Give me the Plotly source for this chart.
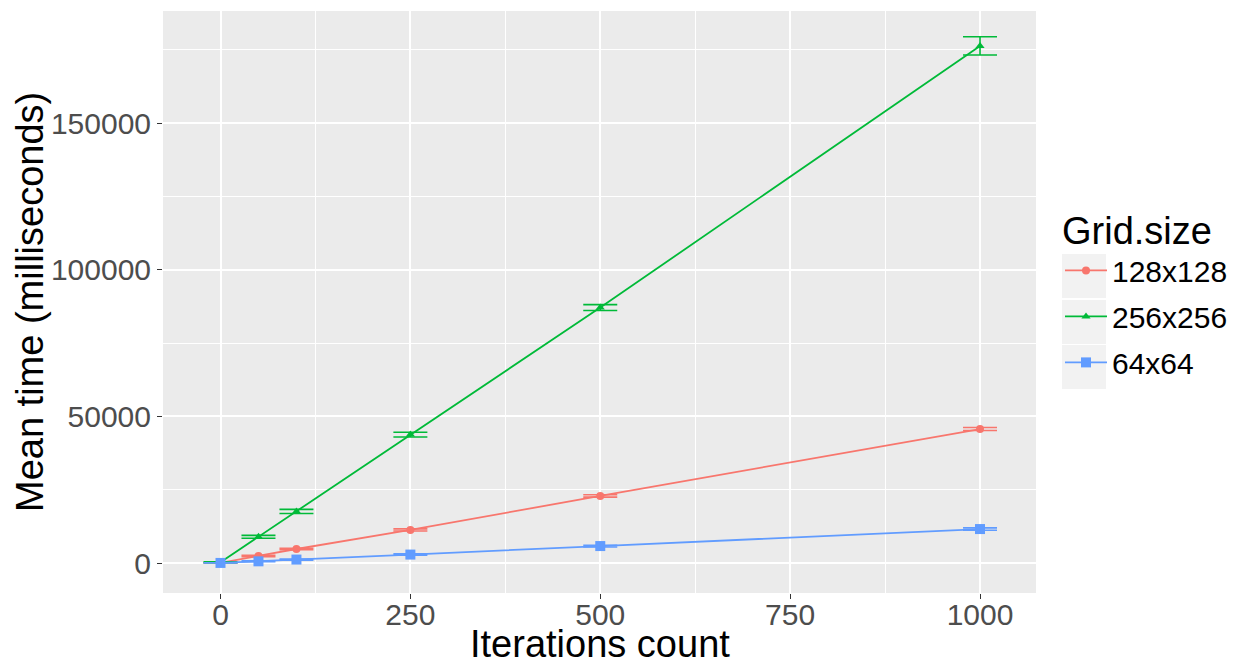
import plotly.graph_objects as go

# ---- data ----
iterations = [0, 50, 100, 250, 500, 1000]
series_names = ["128x128", "256x256", "64x64"]
mean_128 = [100, 2400, 4800, 11300, 22900, 45700]
err_128 = [80, 250, 250, 350, 400, 500]
mean_256 = [300, 8950, 17600, 43800, 87100, 176300]
err_256 = [150, 500, 700, 800, 1000, 3100]
mean_64 = [50, 600, 1200, 2900, 5800, 11600]
err_64 = [40, 150, 200, 250, 300, 400]
x_ticks = [0, 250, 500, 750, 1000]
y_ticks = [0, 50000, 100000, 150000]
x_title = "Iterations count"
y_title = "Mean time (milliseconds)"
legend_title = "Grid.size"

colors = {"128x128": "#F8766D", "256x256": "#00BA38", "64x64": "#619CFF"}
symbols = {"128x128": "circle", "256x256": "triangle-up", "64x64": "square"}
msize = {"128x128": 8, "256x256": 8, "64x64": 10}
means = {"128x128": mean_128, "256x256": mean_256, "64x64": mean_64}
errs = {"128x128": err_128, "256x256": err_256, "64x64": err_64}

W, H = 1237, 659
ML, MR, MT, MB = 163, 201, 11, 66
PW, PH = W - ML - MR, H - MT - MB

FONT = "Liberation Sans, Arial, sans-serif"

fig = go.Figure()
for i, name in enumerate(series_names):
    c = colors[name]
    fig.add_trace(go.Scatter(
        x=iterations, y=means[name], name=name, mode="lines+markers",
        legendgroup=f"g{i}",
        line=dict(color=c, width=1.8),
        marker=dict(color=c, symbol=symbols[name], size=msize[name]),
        error_y=dict(type="data", array=errs[name], visible=True,
                     color=c, thickness=1.6, width=17),
    ))

def px2paper_x(px):
    return (px - ML) / PW

def px2paper_y(py):
    return (H - MB - py) / PH

# grey legend key backgrounds
shapes = []
for (y0, y1) in [(254, 298), (300, 344), (345, 389)]:
    shapes.append(dict(type="rect", xref="paper", yref="paper",
                       x0=px2paper_x(1062), x1=px2paper_x(1106),
                       y0=px2paper_y(y1), y1=px2paper_y(y0),
                       fillcolor="#F2F2F2", line=dict(width=0), layer="below"))

annotations = [
    dict(text=x_title, xref="paper", yref="paper", x=0.5, y=px2paper_y(644),
         xanchor="center", yanchor="middle", showarrow=False,
         font=dict(size=38, family=FONT, color="#000000")),
    dict(text=y_title, xref="paper", yref="paper", x=px2paper_x(30), y=0.5,
         xanchor="center", yanchor="middle", showarrow=False, textangle=-90,
         font=dict(size=38, family=FONT, color="#000000")),
]

fig.update_layout(
    width=W, height=H,
    margin=dict(l=ML, r=MR, t=MT, b=MB, autoexpand=False),
    paper_bgcolor="white", plot_bgcolor="#EBEBEB",
    font=dict(family=FONT, color="#000000"),
    shapes=shapes,
    annotations=annotations,
    showlegend=True,
    legend=dict(
        x=px2paper_x(1060), y=px2paper_y(195), xanchor="left", yanchor="top",
        bgcolor="rgba(0,0,0,0)", borderwidth=0,
        title=dict(text=legend_title, font=dict(size=38, family=FONT, color="#000000")),
        font=dict(size=30, family=FONT, color="#000000"),
        tracegroupgap=4, itemwidth=42,
    ),
    xaxis=dict(
        range=[-75.7, 1073.7], tickmode="array", tickvals=x_ticks,
        ticktext=[str(v) for v in x_ticks],
        showgrid=True, gridcolor="white", gridwidth=1.8, zeroline=False,
        ticks="outside", ticklen=5, tickwidth=1.3, tickcolor="#333333",
        tickfont=dict(size=30, color="#4D4D4D", family=FONT),
        ticklabelstandoff=-10,
        minor=dict(dtick=125, tick0=0, showgrid=True, gridcolor="white", gridwidth=0.9, ticks=""),
        showline=False, automargin=False,
    ),
    yaxis=dict(
        range=[-10200, 188200], tickmode="array", tickvals=y_ticks,
        ticktext=[str(v) for v in y_ticks],
        showgrid=True, gridcolor="white", gridwidth=1.8, zeroline=False,
        ticks="outside", ticklen=5, tickwidth=1.3, tickcolor="#333333",
        tickfont=dict(size=30, color="#4D4D4D", family=FONT),
        minor=dict(dtick=25000, tick0=0, showgrid=True, gridcolor="white", gridwidth=0.9, ticks=""),
        showline=False, automargin=False,
    ),
)

fig.write_html(
    "out.html",
    config={"displayModeBar": False},
    post_script="document.body.style.margin='0';document.body.style.overflow='hidden';",
)
